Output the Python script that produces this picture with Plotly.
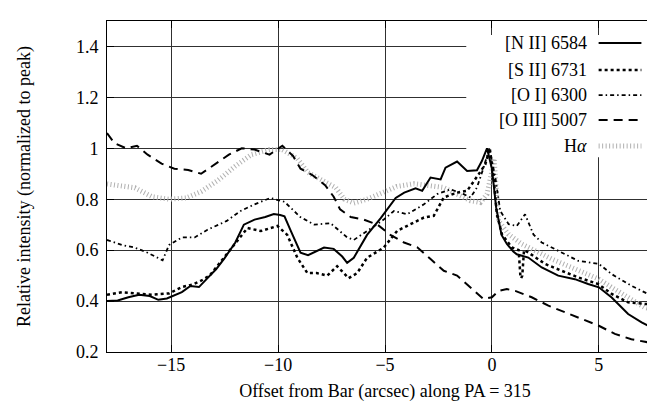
import plotly.graph_objects as go

# ---------------- data ----------------
nii_x = [-18, -17.5, -17.0, -16.5, -16.0, -15.6, -15.2, -15.0, -14.5, -14.1, -13.7, -13.3, -12.9,
         -12.5, -12.0, -11.6, -11.1, -10.6, -10.2, -9.9, -9.7, -9.4, -8.95, -8.6, -8.2, -7.85,
         -7.4, -7.0, -6.77, -6.46, -5.84, -5.2, -4.5, -4.1, -3.57, -3.26, -2.87, -2.4, -2.17,
         -1.63, -1.16, -0.7, -0.47, -0.23, 0.0, 0.2, 0.45, 0.7, 1.0, 1.16, 1.7, 2.33, 3.1, 3.88,
         4.5, 5.0, 5.6, 6.37, 7.0, 7.6, 8.0]
nii_y = [0.40, 0.402, 0.415, 0.425, 0.42, 0.405, 0.41, 0.418, 0.435, 0.459, 0.455, 0.49, 0.525,
         0.569, 0.63, 0.70, 0.72, 0.73, 0.742, 0.738, 0.733, 0.675, 0.59, 0.58, 0.595, 0.61,
         0.605, 0.575, 0.55, 0.57, 0.66, 0.726, 0.805, 0.826, 0.843, 0.833, 0.885, 0.878, 0.924,
         0.948, 0.911, 0.914, 0.95, 1.0, 0.92, 0.766, 0.66, 0.624, 0.595, 0.584, 0.571, 0.532, 0.5,
         0.486, 0.467, 0.454, 0.414, 0.349, 0.316, 0.29, 0.28]

sii_x = [-18, -17.3, -16.6, -15.9, -15.1, -14.5, -14.0, -13.6, -13.2, -12.8, -12.05, -11.43,
         -10.8, -10.03, -9.57, -9.1, -8.63, -8.2, -7.7, -7.24, -6.7, -6.3, -5.84, -5.06, -4.43,
         -3.8, -3.18, -2.72, -2.25, -1.63, -1.16, -0.62, -0.31, -0.1, 0.08, 0.23, 0.47, 0.93, 1.25,
         1.33, 1.37, 1.42, 1.5, 1.7, 2.48, 3.26, 4.04, 4.97, 5.6, 6.37, 7.14, 8.0]
sii_y = [0.425, 0.435, 0.43, 0.425, 0.43, 0.455, 0.465, 0.48, 0.5, 0.543, 0.62, 0.687,
         0.675, 0.695, 0.66, 0.57, 0.51, 0.51, 0.50, 0.537, 0.49, 0.51, 0.57, 0.61, 0.676,
         0.702, 0.728, 0.735, 0.807, 0.826, 0.833, 0.898, 0.937, 1.0, 0.885, 0.741, 0.662, 0.611,
         0.6, 0.5, 0.49, 0.5, 0.6, 0.591, 0.546, 0.519, 0.493, 0.467, 0.428, 0.395, 0.389, 0.389]

oi_x = [-18, -17.3, -16.7, -16.1, -15.4, -15.1, -14.5, -13.9, -13.3, -12.4, -11.75, -11.1,
        -10.36, -9.7, -8.96, -8.3, -7.55, -6.77, -6.46, -5.84, -5.06, -4.58, -3.96, -3.18, -2.56,
        -1.94, -1.32, -1.0, -0.7, -0.39, -0.12, 0.16, 0.39, 0.78, 1.16, 1.55, 1.94, 2.33, 3.26,
        4.04, 5.0, 5.6, 6.52, 7.3, 8.0]
oi_y = [0.64, 0.62, 0.61, 0.59, 0.56, 0.62, 0.65, 0.65, 0.68, 0.715, 0.754, 0.78,
        0.805, 0.79, 0.73, 0.70, 0.706, 0.65, 0.64, 0.675, 0.72, 0.754, 0.741, 0.78, 0.82,
        0.839, 0.82, 0.807, 0.846, 0.924, 1.0, 0.885, 0.754, 0.702, 0.695, 0.741, 0.662, 0.63,
        0.59, 0.558, 0.546, 0.506, 0.46, 0.428, 0.44]

oiii_x = [-18, -17.65, -17.1, -16.6, -16.1, -15.45, -14.85, -14.2, -13.6, -12.9, -12.3, -11.7,
          -11.1, -10.4, -9.8, -9.3, -8.95, -8.4, -7.8, -7.4, -7.1, -6.6, -6.0, -5.35, -4.75,
          -4.11, -3.49, -2.87, -2.25, -1.63, -1.0, -0.39, 0.0, 0.31, 0.7, 1.09, 1.86, 2.64, 3.42,
          4.19, 5.0, 5.75, 6.52, 7.3, 8.0]
oiii_y = [1.06, 1.02, 1.0, 1.01, 0.975, 0.94, 0.92, 0.915, 0.90, 0.94, 0.975, 1.0,
          0.995, 0.975, 1.01, 0.97, 0.92, 0.895, 0.855, 0.81, 0.76, 0.73, 0.72, 0.70, 0.66,
          0.63, 0.611, 0.565, 0.519, 0.5, 0.454, 0.408, 0.415, 0.44, 0.447, 0.44, 0.415, 0.382,
          0.356, 0.33, 0.303, 0.271, 0.25, 0.238, 0.244]

ha_x = [-18, -16.7, -15.9, -15.1, -14.3, -13.6, -12.8, -12.0, -11.25, -10.4, -9.8, -9.1, -8.6,
        -7.9, -7.3, -6.9, -6.46, -5.84, -5.06, -4.45, -3.65, -2.87, -2.25, -1.63, -1.0, -0.54,
        -0.23, 0.0, 0.1, 0.31, 0.78, 1.4, 2.02, 2.8, 3.73, 4.5, 5.0, 5.6, 6.37, 7.14, 8.0]
ha_y = [0.86, 0.845, 0.81, 0.80, 0.805, 0.83, 0.875, 0.93, 0.975, 0.995, 0.995, 0.96, 0.905,
        0.875, 0.845, 0.80, 0.785, 0.80, 0.83, 0.85, 0.861, 0.852, 0.846, 0.82, 0.794, 0.787,
        0.82, 0.911, 0.96, 0.715, 0.662, 0.624, 0.598, 0.565, 0.532, 0.506, 0.486, 0.454, 0.415,
        0.375, 0.356]

x_ticks = [-15, -10, -5, 0, 5]
y_ticks = [0.2, 0.4, 0.6, 0.8, 1.0, 1.2, 1.4]

names = ["[N II] 6584", "[S II] 6731", "[O I] 6300", "[O III] 5007", "H<i>α</i>"]
styles = [
    dict(color="black", width=2, dash="solid"),
    dict(color="black", width=2.5, dash="3px,3px"),
    dict(color="black", width=1.8, dash="4px,3px,1.5px,3px"),
    dict(color="black", width=2, dash="9px,6px"),
    dict(color="#b0b0b0", width=5, dash="1px,2.5px"),
]
series = [(nii_x, nii_y), (sii_x, sii_y), (oi_x, oi_y), (oiii_x, oiii_y), (ha_x, ha_y)]

FONT = "Liberation Serif"
FS = 18

fig = go.Figure()
order = [4, 3, 2, 1, 0]
for i in order:
    sx, sy = series[i]
    fig.add_trace(go.Scatter(x=sx, y=sy, mode="lines", line=styles[i], name=names[i],
                             showlegend=False))

# opaque key box (between grid and traces)
fig.add_shape(type="rect", xref="x", yref="y", x0=-1.2, x1=8, y0=0.965, y1=1.445,
              fillcolor="white", line_width=0, layer="between")

key_y = [1.414, 1.308, 1.209, 1.111, 1.009]
for i in range(5):
    fig.add_annotation(x=4.55, y=key_y[i], xref="x", yref="y", text=names[i], showarrow=False,
                       xanchor="right", yanchor="middle",
                       font=dict(family=FONT, size=FS, color="black"))
    fig.add_shape(type="line", xref="x", yref="y", x0=4.99, x1=6.99, y0=key_y[i], y1=key_y[i],
                  line=styles[i], layer="above")

axis_common = dict(showline=True, linecolor="black", linewidth=1, mirror="ticks",
                   ticks="inside", ticklen=7, tickcolor="black", tickwidth=1,
                   showgrid=True, gridcolor="#303030", gridwidth=1, zeroline=False,
                   tickfont=dict(family=FONT, size=FS, color="black"))

fig.update_xaxes(range=[-18, 8], tickvals=x_ticks, **axis_common,
                 title=dict(text="Offset from Bar (arcsec) along PA = 315",
                            font=dict(family=FONT, size=FS, color="black"), standoff=10),
                 ticklabelstandoff=-4)
fig.update_yaxes(range=[0.2, 1.5], tickvals=y_ticks, **axis_common,
                 title=dict(text="Relative intensity (normalized to peak)",
                            font=dict(family=FONT, size=FS, color="black"), standoff=40),
                 ticklabelstandoff=4)

fig.update_layout(width=655, height=408, margin=dict(l=99, r=0, t=13, b=64),
                  plot_bgcolor="white", paper_bgcolor="white",
                  font=dict(family=FONT, color="black"), showlegend=False)

fig.write_html("out.html")
